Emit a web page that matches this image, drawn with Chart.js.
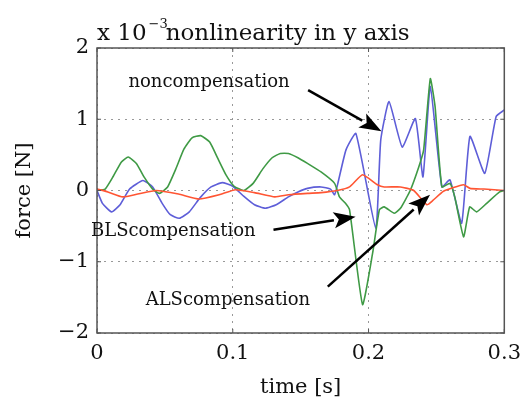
<!DOCTYPE html>
<html>
<head>
<meta charset="utf-8">
<script src="https://cdn.jsdelivr.net/npm/chart.js@4.4.0/dist/chart.umd.min.js"></script>
<style>
  body { margin: 0; background: #fff; }
  canvas { display: block; }
</style>
</head>
<body>
<canvas id="chart" width="529" height="400"></canvas>
<script>
// force values are in units of 1e-3 N
var blueT = [0, 0.004, 0.0107, 0.017, 0.024, 0.0338, 0.041, 0.048, 0.054, 0.0606, 0.068, 0.076, 0.084, 0.0922, 0.1, 0.108, 0.116, 0.1239, 0.132, 0.141, 0.148, 0.155, 0.165, 0.172, 0.175, 0.1774, 0.1834, 0.1907, 0.2053, 0.209, 0.2151, 0.2248, 0.2345, 0.2401, 0.2455, 0.254, 0.26, 0.2686, 0.2747, 0.2856, 0.294, 0.3];
var blueF = [0, -0.18, -0.3, -0.2, 0.02, 0.14, 0.05, -0.18, -0.34, -0.39, -0.3, -0.1, 0.05, 0.11, 0.06, -0.08, -0.2, -0.25, -0.2, -0.09, -0.02, 0.03, 0.05, 0.02, -0.06, 0.1, 0.57, 0.8, -0.53, 0.71, 1.25, 0.61, 1.01, 0.19, 1.46, 0.05, 0.15, -0.46, 0.76, 0.24, 1.04, 1.13];

var greenT = [0, 0.006, 0.012, 0.018, 0.023, 0.029, 0.035, 0.041, 0.046, 0.052, 0.058, 0.064, 0.07, 0.0764, 0.083, 0.089, 0.095, 0.101, 0.108, 0.115, 0.122, 0.129, 0.135, 0.141, 0.148, 0.155, 0.165, 0.175, 0.1786, 0.183, 0.186, 0.1956, 0.203, 0.208, 0.2115, 0.219, 0.2235, 0.2307, 0.237, 0.2406, 0.2455, 0.249, 0.254, 0.26, 0.2635, 0.27, 0.2745, 0.2796, 0.287, 0.2965, 0.3];
var greenF = [0, 0.02, 0.2, 0.4, 0.47, 0.38, 0.18, 0.02, -0.04, 0.05, 0.3, 0.58, 0.74, 0.77, 0.68, 0.45, 0.22, 0.06, 0, 0.1, 0.3, 0.46, 0.52, 0.52, 0.46, 0.38, 0.26, 0.1, -0.09, -0.18, -0.27, -1.6, -0.88, -0.27, -0.23, -0.32, -0.25, 0, 0.33, 0.57, 1.57, 1.18, 0.05, 0.1, -0.09, -0.65, -0.23, -0.3, -0.18, -0.02, 0];

var orangeT = [0, 0.008, 0.019, 0.03, 0.0436, 0.06, 0.0752, 0.09, 0.102, 0.116, 0.131, 0.141, 0.155, 0.165, 0.177, 0.186, 0.1956, 0.2066, 0.2115, 0.2235, 0.2333, 0.243, 0.2474, 0.2552, 0.27, 0.2747, 0.285, 0.3];
var orangeF = [0.02, -0.02, -0.09, -0.05, 0, -0.05, -0.12, -0.06, 0.01, -0.03, -0.09, -0.06, -0.04, -0.03, 0, 0.05, 0.22, 0.08, 0.05, 0.05, 0, -0.2, -0.14, -0.01, 0.08, 0.03, 0.02, 0];

var xTicks = [0, 0.1, 0.2, 0.3];
var yTicks = [-2, -1, 0, 1, 2];

var notes = [
  {text: 'noncompensation', x: 0.0825, y: 1.52},
  {text: 'BLScompensation', x: 0.0562, y: -0.58},
  {text: 'ALScompensation', x: 0.0964, y: -1.54}
];
var arrows = [
  {x0: 0.1555, y0: 1.41, x1: 0.2095, y1: 0.83},
  {x0: 0.13, y0: -0.55, x1: 0.1905, y1: -0.37},
  {x0: 0.17, y0: -1.35, x1: 0.2453, y1: -0.06}
];

var FONT = 'DejaVu Serif';

function pts(t, f) {
  return t.map(function(x, i) { return {x: x, y: f[i]}; });
}

var framePlugin = {
  id: 'frame',
  afterDraw: function(chart) {
    var c = chart.ctx, a = chart.chartArea;
    var sx = chart.scales.x, sy = chart.scales.y;
    c.save();
    c.strokeStyle = '#555';
    c.lineWidth = 1.5;
    c.strokeRect(a.left, a.top, a.right - a.left, a.bottom - a.top);
    c.lineWidth = 1;
    xTicks.forEach(function(v) {
      var px = sx.getPixelForValue(v);
      c.beginPath();
      c.moveTo(px, a.bottom); c.lineTo(px, a.bottom - 4);
      c.moveTo(px, a.top); c.lineTo(px, a.top + 4);
      c.stroke();
    });
    yTicks.forEach(function(v) {
      var py = sy.getPixelForValue(v);
      c.beginPath();
      c.moveTo(a.left, py); c.lineTo(a.left + 4, py);
      c.moveTo(a.right, py); c.lineTo(a.right - 4, py);
      c.stroke();
    });

    // title with exponent
    c.fillStyle = '#111';
    c.textBaseline = 'alphabetic';
    c.textAlign = 'left';
    c.font = '23px "' + FONT + '"';
    var tx = a.left, ty = a.top - 8;
    c.fillText('x 10', tx, ty);
    tx += c.measureText('x 10').width + 2;
    c.font = '13px "' + FONT + '"';
    c.fillText('\u22123', tx, ty - 12);
    tx += c.measureText('\u22123').width - 2;
    c.font = '23px "' + FONT + '"';
    c.fillText('nonlinearity in y axis', tx, ty);

    // annotations
    c.font = '18px "' + FONT + '"';
    c.textAlign = 'center';
    c.textBaseline = 'middle';
    notes.forEach(function(n) {
      c.fillText(n.text, sx.getPixelForValue(n.x), sy.getPixelForValue(n.y));
    });
    c.strokeStyle = '#000';
    c.fillStyle = '#000';
    arrows.forEach(function(ar) {
      var x0 = sx.getPixelForValue(ar.x0), y0 = sy.getPixelForValue(ar.y0);
      var x1 = sx.getPixelForValue(ar.x1), y1 = sy.getPixelForValue(ar.y1);
      var ang = Math.atan2(y1 - y0, x1 - x0);
      var hl = 22, hw = 8;
      var bx = x1 - hl * Math.cos(ang), by = y1 - hl * Math.sin(ang);
      c.lineWidth = 2.5;
      c.beginPath();
      c.moveTo(x0, y0); c.lineTo(bx, by);
      c.stroke();
      c.beginPath();
      c.moveTo(x1, y1);
      c.lineTo(bx + hw * Math.sin(ang), by - hw * Math.cos(ang));
      c.lineTo(bx + 5 * Math.cos(ang), by + 5 * Math.sin(ang));
      c.lineTo(bx - hw * Math.sin(ang), by + hw * Math.cos(ang));
      c.closePath();
      c.fill();
    });
    c.restore();
  }
};

var chart = new Chart(document.getElementById('chart'), {
  type: 'line',
  data: {
    datasets: [
      {label: 'ALS', data: pts(orangeT, orangeF), borderColor: '#ff5533'},
      {label: 'BLS', data: pts(greenT, greenF), borderColor: '#3f9a45'},
      {label: 'non', data: pts(blueT, blueF), borderColor: '#5e5ed8'}
    ]
  },
  options: {
    responsive: false,
    animation: false,
    elements: {
      point: {radius: 0},
      line: {borderWidth: 1.6, tension: 0.15, fill: false}
    },
    layout: {padding: {left: 0, top: 48, right: 21, bottom: 0}},
    plugins: {legend: {display: false}, tooltip: {enabled: false}, title: {display: false}},
    scales: {
      x: {
        type: 'linear',
        min: 0, max: 0.3,
        afterFit: function(s) { s.height = 67; },
        afterBuildTicks: function(s) { s.ticks = xTicks.map(function(v) { return {value: v}; }); },
        ticks: {
          color: '#111', padding: 8,
          font: {family: FONT, size: 21},
          callback: function(v) { return String(Math.round(v * 10) / 10); }
        },
        grid: {color: '#999', drawTicks: false, lineWidth: 1},
        border: {display: false, dash: [2, 5]},
        title: {display: true, text: 'time [s]', color: '#111', font: {family: FONT, size: 21}, padding: {top: 0, bottom: 0}}
      },
      y: {
        type: 'linear',
        min: -2, max: 2,
        afterFit: function(s) { s.width = 97; },
        afterBuildTicks: function(s) { s.ticks = yTicks.map(function(v) { return {value: v}; }); },
        ticks: {
          color: '#111', padding: 8,
          font: {family: FONT, size: 21},
          callback: function(v) { return String(v).replace('-', '\u2212'); }
        },
        grid: {color: '#999', drawTicks: false, lineWidth: 1},
        border: {display: false, dash: [2, 5]},
        title: {display: true, text: 'force [N]', color: '#111', font: {family: FONT, size: 21}, padding: {top: 12, bottom: 0}}
      }
    }
  },
  plugins: [framePlugin]
});
</script>
</body>
</html>
